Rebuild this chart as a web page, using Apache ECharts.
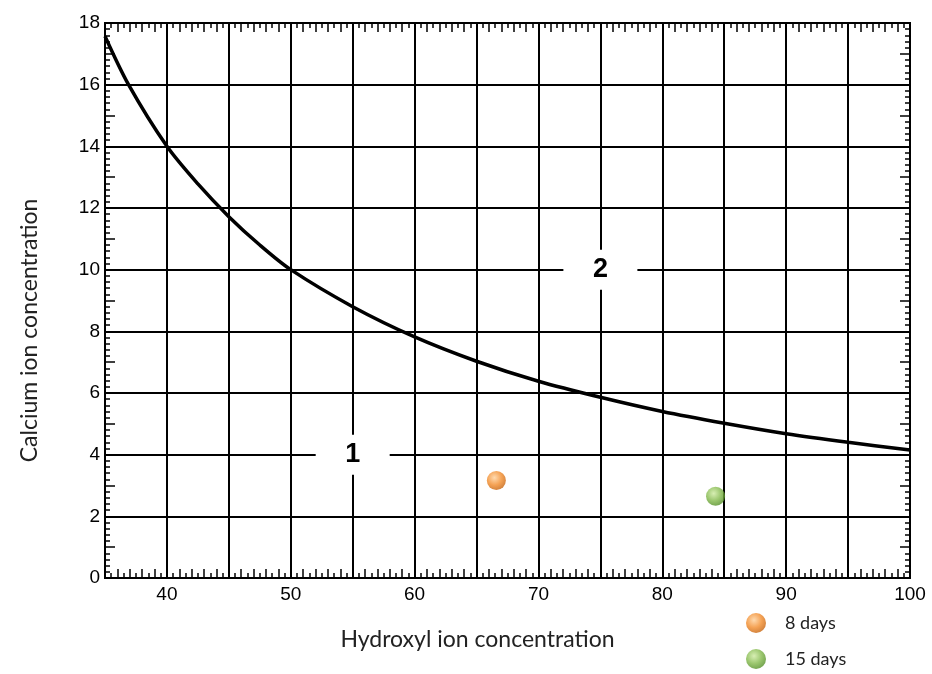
<!DOCTYPE html>
<html><head><meta charset="utf-8">
<script src="https://cdn.jsdelivr.net/npm/echarts@6/dist/echarts.min.js"></script>
<style>html,body{margin:0;background:#fff}#c{width:932px;height:674px}</style>
</head><body><div id="c"></div>
<script>
// Boundary curve
const hydroxyl = [35, 36.9, 40, 42.5, 45, 47.5, 50, 55, 60, 65, 70, 75, 80, 85, 90, 95, 100];
const calcium  = [17.57, 16.0, 14.0, 12.78, 11.72, 10.8, 10.0, 8.8, 7.82, 7.03, 6.38, 5.86, 5.4, 5.02, 4.68, 4.4, 4.15];
// Measured points
const days8  = [[66.6, 3.16]];
const days15 = [[84.3, 2.65]];
// Zone labels
const zoneNames = ['1', '2'];
const zoneX = [55, 75];
const zoneY = [4, 10];
// Axis ranges
const xMin = 35, xMax = 100, xStep = 5;
const yMin = 0, yMax = 18, yStep = 2;

const black = '#000';
const tickFont = {fontFamily: 'Liberation Sans', fontSize: 19, color: black};

function xAxisDef(pos, main, labels) {
  return {
    type: 'value', position: pos, min: xMin, max: xMax,
    interval: main ? xStep : 1,
    axisLine: {show: true, onZero: false, lineStyle: {color: black, width: 2}},
    splitLine: {show: main, lineStyle: {color: black, width: 2}},
    axisTick: {show: !main, inside: true, length: 9, lineStyle: {color: black, width: 1.5}},
    minorTick: {show: main, splitNumber: 10, length: 5, lineStyle: {color: black, width: 1.5}},
    axisLabel: labels ? Object.assign({show: true, margin: 7, formatter: v => (v % 10 === 0 ? String(v) : '')}, tickFont) : {show: false},
    name: labels ? 'Hydroxyl ion concentration' : '',
    nameLocation: 'middle', nameGap: 50,
    nameTextStyle: {fontFamily: 'Lato', fontSize: 23, color: '#222', padding: [0, 60, 0, 0]}
  };
}
function yAxisDef(pos, main, labels) {
  return {
    type: 'value', position: pos, min: yMin, max: yMax,
    interval: main ? yStep : 1,
    axisLine: {show: true, onZero: false, lineStyle: {color: black, width: 2}},
    splitLine: {show: main, lineStyle: {color: black, width: 2}},
    axisTick: {show: !main, inside: true, length: 10, lineStyle: {color: black, width: 1.5}},
    minorTick: {show: main, splitNumber: 10, length: 5, lineStyle: {color: black, width: 1.5}},
    axisLabel: labels ? Object.assign({show: true, margin: 5}, tickFont) : {show: false},
    name: labels ? 'Calcium ion concentration' : '',
    nameLocation: 'middle', nameGap: 64,
    nameTextStyle: {fontFamily: 'Lato', fontSize: 23, color: '#222', padding: [0, 60, 0, 0]}
  };
}

function sphere(c0, c1, c2) {
  return {type: 'radial', x: 0.4, y: 0.35, r: 0.7,
    colorStops: [{offset: 0, color: c0}, {offset: 0.55, color: c1}, {offset: 1, color: c2}]};
}

const chart = echarts.init(document.getElementById('c'));
chart.setOption({
  animation: false,
  backgroundColor: '#fff',
  grid: {left: 105, right: 22, top: 23, bottom: 96},
  xAxis: [xAxisDef('bottom', true, true), xAxisDef('bottom', false, false), xAxisDef('top', true, false), xAxisDef('top', false, false)],
  yAxis: [yAxisDef('left', true, true), yAxisDef('left', false, false), yAxisDef('right', true, false), yAxisDef('right', false, false)],
  legend: {
    orient: 'vertical', left: 746, top: 613, itemWidth: 20, itemHeight: 20, itemGap: 16, padding: 0,
    icon: 'circle', data: ['8 days', '15 days'],
    textStyle: {fontFamily: 'Lato', fontSize: 18, color: '#222', padding: [0, 0, 0, 14]}
  },
  series: [
    {type: 'line', data: hydroxyl.map((x, i) => [x, calcium[i]]), smooth: 0.3, showSymbol: false,
     lineStyle: {color: black, width: 3.5}, z: 3, silent: true},
    {type: 'scatter', data: zoneNames.map((n, i) => [zoneX[i], zoneY[i], n]), symbol: 'rect', symbolSize: [74, 40], z: 4,
     silent: true, itemStyle: {color: '#fff', opacity: 1},
     emphasis: {disabled: true},
     label: {show: true, position: 'inside', formatter: p => p.data[2], fontFamily: 'Liberation Sans', fontSize: 27,
       fontWeight: 'bold', color: black}},
    {type: 'scatter', name: '8 days', data: days8, symbolSize: 19, z: 5,
     itemStyle: {color: sphere('#ffd09a', '#f28b2a', '#c25f0a')}},
    {type: 'scatter', name: '15 days', data: days15, symbolSize: 19, z: 5,
     itemStyle: {color: sphere('#cdeaa0', '#82b84a', '#4e8a22')}}
  ]
});
</script>
</body></html>
